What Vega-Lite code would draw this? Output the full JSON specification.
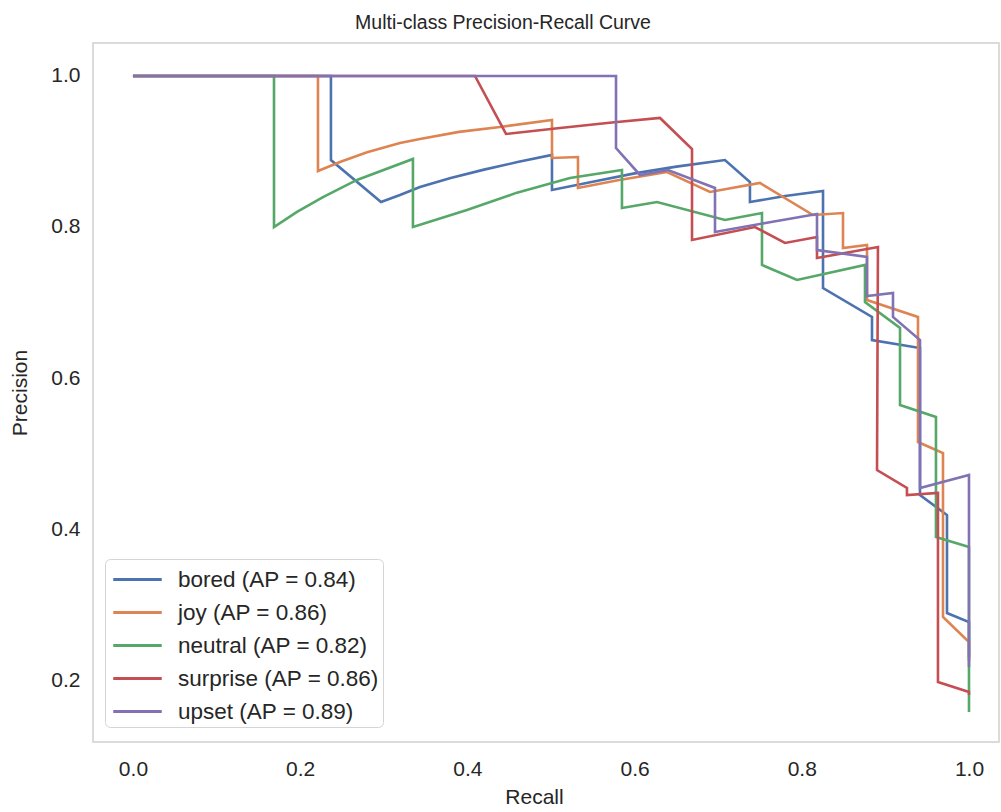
{
  "$schema": "https://vega.github.io/schema/vega-lite/v6.json",
  "autosize": "none",
  "width": 906,
  "height": 699,
  "padding": {"left": 93, "top": 43, "right": 2, "bottom": 70},
  "background": "white",
  "title": {
    "text": "Multi-class Precision-Recall Curve",
    "font": "Liberation Sans",
    "fontSize": 19.5,
    "fontWeight": "normal",
    "color": "#262626",
    "anchor": "middle",
    "dx": -43,
    "offset": 10
  },
  "config": {
    "view": {"stroke": "#cfcfcf", "strokeWidth": 1.5},
    "axis": {
      "grid": false,
      "domain": false,
      "ticks": false,
      "tickSize": 0,
      "labelFont": "Liberation Sans",
      "labelFontSize": 21,
      "labelColor": "#262626",
      "titleFont": "Liberation Sans",
      "titleFontSize": 21,
      "titleFontWeight": "normal",
      "titleColor": "#262626"
    },
    "legend": {
      "labelFont": "Liberation Sans",
      "labelFontSize": 22.5,
      "labelColor": "#262626",
      "labelLimit": 0
    }
  },
  "data": {
    "values": [
      {"c": "bored (AP = 0.84)", "i": 0, "r": 0, "p": 1},
      {"c": "bored (AP = 0.84)", "i": 1, "r": 0.2368, "p": 1},
      {"c": "bored (AP = 0.84)", "i": 2, "r": 0.2368, "p": 0.8887},
      {"c": "bored (AP = 0.84)", "i": 3, "r": 0.2967, "p": 0.8331},
      {"c": "bored (AP = 0.84)", "i": 4, "r": 0.3194, "p": 0.8424},
      {"c": "bored (AP = 0.84)", "i": 5, "r": 0.3433, "p": 0.853},
      {"c": "bored (AP = 0.84)", "i": 6, "r": 0.38, "p": 0.865},
      {"c": "bored (AP = 0.84)", "i": 7, "r": 0.42, "p": 0.876},
      {"c": "bored (AP = 0.84)", "i": 8, "r": 0.46, "p": 0.886},
      {"c": "bored (AP = 0.84)", "i": 9, "r": 0.5012, "p": 0.8954},
      {"c": "bored (AP = 0.84)", "i": 10, "r": 0.5012, "p": 0.849},
      {"c": "bored (AP = 0.84)", "i": 11, "r": 0.55, "p": 0.86},
      {"c": "bored (AP = 0.84)", "i": 12, "r": 0.6, "p": 0.871},
      {"c": "bored (AP = 0.84)", "i": 13, "r": 0.65, "p": 0.88},
      {"c": "bored (AP = 0.84)", "i": 14, "r": 0.7081, "p": 0.8887},
      {"c": "bored (AP = 0.84)", "i": 15, "r": 0.738, "p": 0.8596},
      {"c": "bored (AP = 0.84)", "i": 16, "r": 0.738, "p": 0.8331},
      {"c": "bored (AP = 0.84)", "i": 17, "r": 0.78, "p": 0.841},
      {"c": "bored (AP = 0.84)", "i": 18, "r": 0.8254, "p": 0.8477},
      {"c": "bored (AP = 0.84)", "i": 19, "r": 0.8254, "p": 0.7192},
      {"c": "bored (AP = 0.84)", "i": 20, "r": 0.884, "p": 0.6808},
      {"c": "bored (AP = 0.84)", "i": 21, "r": 0.884, "p": 0.6503},
      {"c": "bored (AP = 0.84)", "i": 22, "r": 0.9414, "p": 0.6397},
      {"c": "bored (AP = 0.84)", "i": 23, "r": 0.9414, "p": 0.445},
      {"c": "bored (AP = 0.84)", "i": 24, "r": 0.9737, "p": 0.4185},
      {"c": "bored (AP = 0.84)", "i": 25, "r": 0.9737, "p": 0.2887},
      {"c": "bored (AP = 0.84)", "i": 26, "r": 1.0, "p": 0.2768},
      {"c": "bored (AP = 0.84)", "i": 27, "r": 1.0, "p": 0.23},

      {"c": "joy (AP = 0.86)", "i": 0, "r": 0, "p": 1},
      {"c": "joy (AP = 0.86)", "i": 1, "r": 0.2213, "p": 1},
      {"c": "joy (AP = 0.86)", "i": 2, "r": 0.2213, "p": 0.8742},
      {"c": "joy (AP = 0.86)", "i": 3, "r": 0.2476, "p": 0.886},
      {"c": "joy (AP = 0.86)", "i": 4, "r": 0.28, "p": 0.899},
      {"c": "joy (AP = 0.86)", "i": 5, "r": 0.3194, "p": 0.9113},
      {"c": "joy (AP = 0.86)", "i": 6, "r": 0.3433, "p": 0.9166},
      {"c": "joy (AP = 0.86)", "i": 7, "r": 0.39, "p": 0.926},
      {"c": "joy (AP = 0.86)", "i": 8, "r": 0.4391, "p": 0.9325},
      {"c": "joy (AP = 0.86)", "i": 9, "r": 0.5012, "p": 0.9417},
      {"c": "joy (AP = 0.86)", "i": 10, "r": 0.5012, "p": 0.8914},
      {"c": "joy (AP = 0.86)", "i": 11, "r": 0.5323, "p": 0.8927},
      {"c": "joy (AP = 0.86)", "i": 12, "r": 0.5323, "p": 0.8517},
      {"c": "joy (AP = 0.86)", "i": 13, "r": 0.58, "p": 0.862},
      {"c": "joy (AP = 0.86)", "i": 14, "r": 0.6388, "p": 0.8728},
      {"c": "joy (AP = 0.86)", "i": 15, "r": 0.6902, "p": 0.8464},
      {"c": "joy (AP = 0.86)", "i": 16, "r": 0.75, "p": 0.8583},
      {"c": "joy (AP = 0.86)", "i": 17, "r": 0.8134, "p": 0.8159},
      {"c": "joy (AP = 0.86)", "i": 18, "r": 0.8493, "p": 0.8185},
      {"c": "joy (AP = 0.86)", "i": 19, "r": 0.8493, "p": 0.7722},
      {"c": "joy (AP = 0.86)", "i": 20, "r": 0.878, "p": 0.7762},
      {"c": "joy (AP = 0.86)", "i": 21, "r": 0.878, "p": 0.7033},
      {"c": "joy (AP = 0.86)", "i": 22, "r": 0.939, "p": 0.6808},
      {"c": "joy (AP = 0.86)", "i": 23, "r": 0.939, "p": 0.5152},
      {"c": "joy (AP = 0.86)", "i": 24, "r": 0.9689, "p": 0.5007},
      {"c": "joy (AP = 0.86)", "i": 25, "r": 0.9689, "p": 0.2834},
      {"c": "joy (AP = 0.86)", "i": 26, "r": 1.0, "p": 0.2503},
      {"c": "joy (AP = 0.86)", "i": 27, "r": 1.0, "p": 0.225},

      {"c": "neutral (AP = 0.82)", "i": 0, "r": 0, "p": 1},
      {"c": "neutral (AP = 0.82)", "i": 1, "r": 0.1687, "p": 1},
      {"c": "neutral (AP = 0.82)", "i": 2, "r": 0.1687, "p": 0.8},
      {"c": "neutral (AP = 0.82)", "i": 3, "r": 0.1962, "p": 0.8199},
      {"c": "neutral (AP = 0.82)", "i": 4, "r": 0.2273, "p": 0.8397},
      {"c": "neutral (AP = 0.82)", "i": 5, "r": 0.2679, "p": 0.8623},
      {"c": "neutral (AP = 0.82)", "i": 6, "r": 0.3349, "p": 0.8901},
      {"c": "neutral (AP = 0.82)", "i": 7, "r": 0.3349, "p": 0.8},
      {"c": "neutral (AP = 0.82)", "i": 8, "r": 0.3995, "p": 0.8225},
      {"c": "neutral (AP = 0.82)", "i": 9, "r": 0.4593, "p": 0.8455},
      {"c": "neutral (AP = 0.82)", "i": 10, "r": 0.5227, "p": 0.8649},
      {"c": "neutral (AP = 0.82)", "i": 11, "r": 0.5849, "p": 0.8755},
      {"c": "neutral (AP = 0.82)", "i": 12, "r": 0.5849, "p": 0.8252},
      {"c": "neutral (AP = 0.82)", "i": 13, "r": 0.6268, "p": 0.8331},
      {"c": "neutral (AP = 0.82)", "i": 14, "r": 0.7081, "p": 0.8093},
      {"c": "neutral (AP = 0.82)", "i": 15, "r": 0.7524, "p": 0.8185},
      {"c": "neutral (AP = 0.82)", "i": 16, "r": 0.7524, "p": 0.7497},
      {"c": "neutral (AP = 0.82)", "i": 17, "r": 0.7943, "p": 0.7298},
      {"c": "neutral (AP = 0.82)", "i": 18, "r": 0.8756, "p": 0.7497},
      {"c": "neutral (AP = 0.82)", "i": 19, "r": 0.8756, "p": 0.7007},
      {"c": "neutral (AP = 0.82)", "i": 20, "r": 0.9175, "p": 0.6662},
      {"c": "neutral (AP = 0.82)", "i": 21, "r": 0.9175, "p": 0.5642},
      {"c": "neutral (AP = 0.82)", "i": 22, "r": 0.9605, "p": 0.5483},
      {"c": "neutral (AP = 0.82)", "i": 23, "r": 0.9605, "p": 0.3894},
      {"c": "neutral (AP = 0.82)", "i": 24, "r": 1.0, "p": 0.3762},
      {"c": "neutral (AP = 0.82)", "i": 25, "r": 1.0, "p": 0.1576},

      {"c": "surprise (AP = 0.86)", "i": 0, "r": 0, "p": 1},
      {"c": "surprise (AP = 0.86)", "i": 1, "r": 0.4091, "p": 1},
      {"c": "surprise (AP = 0.86)", "i": 2, "r": 0.4462, "p": 0.9232},
      {"c": "surprise (AP = 0.86)", "i": 3, "r": 0.5108, "p": 0.9311},
      {"c": "surprise (AP = 0.86)", "i": 4, "r": 0.57, "p": 0.938},
      {"c": "surprise (AP = 0.86)", "i": 5, "r": 0.6304, "p": 0.9444},
      {"c": "surprise (AP = 0.86)", "i": 6, "r": 0.6687, "p": 0.9033},
      {"c": "surprise (AP = 0.86)", "i": 7, "r": 0.6687, "p": 0.7828},
      {"c": "surprise (AP = 0.86)", "i": 8, "r": 0.744, "p": 0.8},
      {"c": "surprise (AP = 0.86)", "i": 9, "r": 0.7799, "p": 0.7788},
      {"c": "surprise (AP = 0.86)", "i": 10, "r": 0.8182, "p": 0.7868},
      {"c": "surprise (AP = 0.86)", "i": 11, "r": 0.8182, "p": 0.7589},
      {"c": "surprise (AP = 0.86)", "i": 12, "r": 0.8911, "p": 0.7735},
      {"c": "surprise (AP = 0.86)", "i": 13, "r": 0.89, "p": 0.4781},
      {"c": "surprise (AP = 0.86)", "i": 14, "r": 0.9258, "p": 0.4543},
      {"c": "surprise (AP = 0.86)", "i": 15, "r": 0.9258, "p": 0.445},
      {"c": "surprise (AP = 0.86)", "i": 16, "r": 0.9629, "p": 0.4477},
      {"c": "surprise (AP = 0.86)", "i": 17, "r": 0.9629, "p": 0.1974},
      {"c": "surprise (AP = 0.86)", "i": 18, "r": 1.0, "p": 0.1841},
      {"c": "surprise (AP = 0.86)", "i": 19, "r": 1.0, "p": 0.1801},

      {"c": "upset (AP = 0.89)", "i": 0, "r": 0, "p": 1},
      {"c": "upset (AP = 0.89)", "i": 1, "r": 0.5778, "p": 1},
      {"c": "upset (AP = 0.89)", "i": 2, "r": 0.5778, "p": 0.9046},
      {"c": "upset (AP = 0.89)", "i": 3, "r": 0.6065, "p": 0.8689},
      {"c": "upset (AP = 0.89)", "i": 4, "r": 0.64, "p": 0.8755},
      {"c": "upset (AP = 0.89)", "i": 5, "r": 0.6962, "p": 0.8517},
      {"c": "upset (AP = 0.89)", "i": 6, "r": 0.6962, "p": 0.7934},
      {"c": "upset (AP = 0.89)", "i": 7, "r": 0.76, "p": 0.806},
      {"c": "upset (AP = 0.89)", "i": 8, "r": 0.8182, "p": 0.8172},
      {"c": "upset (AP = 0.89)", "i": 9, "r": 0.8182, "p": 0.7695},
      {"c": "upset (AP = 0.89)", "i": 10, "r": 0.878, "p": 0.7603},
      {"c": "upset (AP = 0.89)", "i": 11, "r": 0.878, "p": 0.7086},
      {"c": "upset (AP = 0.89)", "i": 12, "r": 0.9091, "p": 0.7126},
      {"c": "upset (AP = 0.89)", "i": 13, "r": 0.9091, "p": 0.6808},
      {"c": "upset (AP = 0.89)", "i": 14, "r": 0.9414, "p": 0.6503},
      {"c": "upset (AP = 0.89)", "i": 15, "r": 0.9414, "p": 0.4543},
      {"c": "upset (AP = 0.89)", "i": 16, "r": 1.0, "p": 0.4715},
      {"c": "upset (AP = 0.89)", "i": 17, "r": 1.0, "p": 0.2172}
    ]
  },
  "mark": {"type": "line", "strokeWidth": 2.6, "clip": true},
  "encoding": {
    "x": {
      "field": "r",
      "type": "quantitative",
      "title": "Recall",
      "scale": {"domain": [-0.0478, 1.0359], "nice": false, "zero": false},
      "axis": {"values": [0, 0.2, 0.4, 0.6, 0.8, 1.0], "format": ".1f", "labelPadding": 16, "titlePadding": 7, "titleX": 441}
    },
    "y": {
      "field": "p",
      "type": "quantitative",
      "title": "Precision",
      "scale": {"domain": [0.1179, 1.0437], "nice": false, "zero": false},
      "axis": {"values": [0.2, 0.4, 0.6, 0.8, 1.0], "format": ".1f", "labelPadding": 13, "titlePadding": 20}
    },
    "color": {
      "field": "c",
      "type": "nominal",
      "scale": {
        "domain": ["bored (AP = 0.84)", "joy (AP = 0.86)", "neutral (AP = 0.82)", "surprise (AP = 0.86)", "upset (AP = 0.89)"],
        "range": ["#4c72b0", "#dd8452", "#55a868", "#c44e52", "#8172b3"]
      },
      "legend": {
        "title": null,
        "orient": "none",
        "legendX": 12,
        "legendY": 516,
        "symbolType": "M-1.65,0L1.65,0",
        "symbolSize": 864,
        "symbolStrokeWidth": 3,
        "symbolOffset": 12,
        "labelOffset": 24,
        "fillColor": "white",
        "strokeColor": "#d5d5d5",
        "cornerRadius": 5,
        "padding": 4,
        "rowPadding": 5
      }
    },
    "order": {"field": "i", "type": "quantitative"}
  }
}
